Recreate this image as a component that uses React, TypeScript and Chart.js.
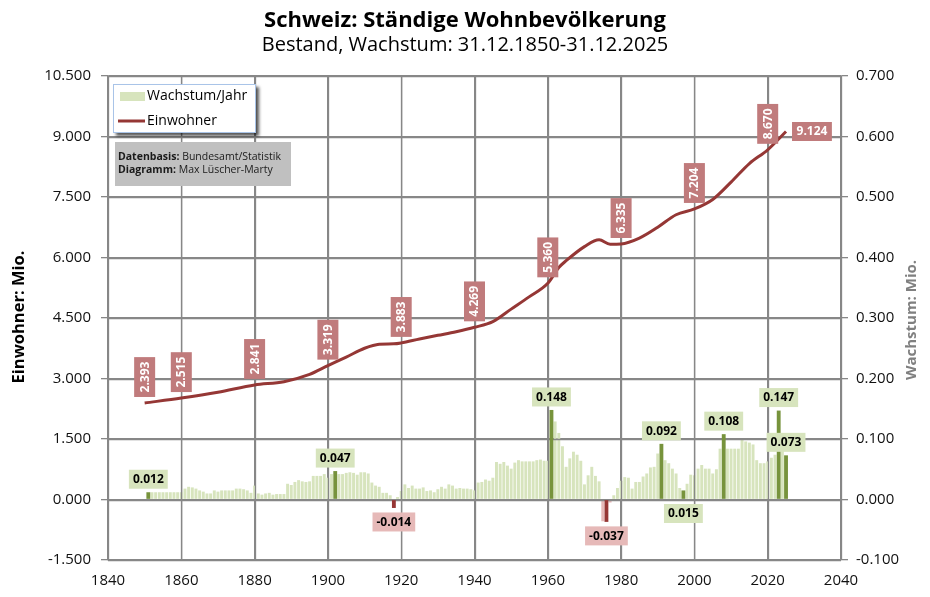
import { useEffect, useRef } from "react";
import { Chart, registerables } from "chart.js";

Chart.register(...registerables);

const FONT = '"Open Sans", "DejaVu Sans", sans-serif';

// Wachstum pro Jahr (Mio.), 1851 .. 2025
const growthFirstYear = 1851;
const growthValues = [
	0.012, 0.012, 0.012, 0.012, 0.012, 0.012, 0.012, 0.012, 0.012, 0.012,
	0.018, 0.021, 0.020, 0.018, 0.015, 0.013, 0.010, 0.010, 0.015, 0.013,
	0.015, 0.015, 0.015, 0.015, 0.018, 0.018, 0.017, 0.015, 0.011, 0.023,
	0.010, 0.008, 0.010, 0.011, 0.008, 0.009, 0.009, 0.009, 0.026, 0.024,
	0.029, 0.032, 0.030, 0.029, 0.030, 0.039, 0.039, 0.039, 0.042, 0.036,
	0.042, 0.047, 0.042, 0.042, 0.044, 0.045, 0.044, 0.041, 0.045, 0.045,
	0.043, 0.028, 0.023, 0.021, 0.011, 0.011, 0.007, -0.014, 0.004, 0.014,
	0.025, 0.019, 0.023, 0.018, 0.018, 0.020, 0.014, 0.015, 0.012, 0.017,
	0.021, 0.018, 0.025, 0.023, 0.018, 0.019, 0.018, 0.018, 0.017, 0.015,
	0.028, 0.029, 0.033, 0.031, 0.036, 0.062, 0.059, 0.062, 0.056, 0.051,
	0.061, 0.065, 0.063, 0.063, 0.063, 0.063, 0.065, 0.066, 0.064, 0.064,
	0.148, 0.129, 0.110, 0.088, 0.054, 0.068, 0.079, 0.074, 0.064, 0.025,
	0.040, 0.054, 0.039, 0.030, -0.036, -0.037, -0.005, 0.007, 0.019, 0.031,
	0.037, 0.036, 0.018, 0.029, 0.029, 0.038, 0.043, 0.053, 0.054, 0.076,
	0.092, 0.065, 0.060, 0.051, 0.043, 0.019, 0.015, 0.026, 0.041, 0.040,
	0.051, 0.057, 0.051, 0.051, 0.043, 0.050, 0.084, 0.108, 0.084, 0.084,
	0.084, 0.084, 0.099, 0.096, 0.094, 0.091, 0.065, 0.060, 0.060, 0.063,
	0.069, 0.074, 0.147, 0.085, 0.073,
];
const highlightYears = [1851, 1902, 1918, 1961, 1976, 1991, 1997, 2008, 2023, 2025];
const labelBelowYears = [1997];

// Einwohner (Mio.)
const popYears = [
	1850, 1860, 1870, 1880, 1888, 1895, 1900, 1905, 1910, 1914, 1918, 1920,
	1925, 1930, 1935, 1940, 1945, 1950, 1955, 1960, 1963, 1965, 1970, 1974,
	1977, 1980, 1985, 1990, 1995, 2000, 2005, 2010, 2015, 2020, 2025,
];
const popValues = [
	2.393, 2.515, 2.66, 2.841, 2.92, 3.1, 3.319, 3.53, 3.75, 3.85, 3.86, 3.883,
	3.98, 4.07, 4.16, 4.269, 4.41, 4.72, 5.03, 5.36, 5.75, 5.92, 6.27, 6.44,
	6.33, 6.335, 6.48, 6.75, 7.06, 7.204, 7.44, 7.87, 8.33, 8.67, 9.124,
];
const popLabelYears = [1850, 1860, 1880, 1900, 1920, 1940, 1960, 1980, 2000, 2020];

const xTicks = [1840, 1860, 1880, 1900, 1920, 1940, 1960, 1980, 2000, 2020, 2040];
const leftTicks = [-1.5, 0, 1.5, 3, 4.5, 6, 7.5, 9, 10.5];
const rightTicks = [-0.1, 0, 0.1, 0.2, 0.3, 0.4, 0.5, 0.6, 0.7];

const GRID = "#878787";
const LINE = "#953735";

const growthYears = growthValues.map((_, i) => growthFirstYear + i);
const growthOf = (year: number) => growthValues[year - growthFirstYear];

const overlay = {
	id: "overlay",
	afterDatasetDraw(chart: any, args: any) {
		// gridlines drawn over the light bars
		if (args.index !== 2) return;
		const { ctx, chartArea: a, scales } = chart;
		ctx.save();
		ctx.strokeStyle = GRID;
		ctx.lineWidth = 1.3;
		ctx.beginPath();
		xTicks.forEach((t) => {
			const x = Math.round(scales.x.getPixelForValue(t)) + 0.5;
			ctx.moveTo(x, a.top);
			ctx.lineTo(x, a.bottom);
		});
		leftTicks.forEach((t) => {
			const y = Math.round(scales.y.getPixelForValue(t)) + 0.5;
			ctx.moveTo(a.left, y);
			ctx.lineTo(a.right, y);
		});
		ctx.stroke();
		ctx.restore();
	},
	afterDatasetsDraw(chart: any) {
		const { ctx, scales } = chart;
		const xs = scales.x;
		const y2 = scales.y2;
		const y1 = scales.y;
		ctx.save();
		ctx.textAlign = "center";
		ctx.textBaseline = "middle";

		// bar labels
		ctx.font = `bold 12px ${FONT}`;
		highlightYears.forEach((year) => {
			const v = growthOf(year);
			const x = xs.getPixelForValue(year);
			const top = y2.getPixelForValue(v);
			const zero = y2.getPixelForValue(0);
			const below = v < 0 || labelBelowYears.includes(year);
			const cy = below ? Math.max(top, zero) + 14 : Math.min(top, zero) - 13;
			const text = v.toFixed(3);
			const w = ctx.measureText(text).width + 8;
			ctx.fillStyle = v < 0 ? "#E6B9B8" : "#D7E4BD";
			ctx.fillRect(x - w / 2, cy - 9.5, w, 19);
			ctx.fillStyle = "#000";
			ctx.fillText(text, x, cy + 0.5);
		});

		// population labels
		ctx.font = `bold 12px ${FONT}`;
		popLabelYears.forEach((year) => {
			const v = popValues[popYears.indexOf(year)];
			const x = xs.getPixelForValue(year);
			const y = y1.getPixelForValue(v);
			const text = v.toFixed(3);
			const h = ctx.measureText(text).width + 9;
			ctx.fillStyle = "#C07B7C";
			ctx.fillRect(x - 10.5, y - 6 - h, 21, h);
			ctx.save();
			ctx.translate(x + 0.5, y - 6 - h / 2);
			ctx.rotate(-Math.PI / 2);
			ctx.fillStyle = "#fff";
			ctx.fillText(text, 0, 0);
			ctx.restore();
		});
		const lastV = popValues[popValues.length - 1];
		const lx = xs.getPixelForValue(popYears[popYears.length - 1]);
		const ly = y1.getPixelForValue(lastV);
		const lt = lastV.toFixed(3);
		const lw = ctx.measureText(lt).width + 9;
		ctx.fillStyle = "#C07B7C";
		ctx.fillRect(lx + 6, ly - 9.5, lw, 19);
		ctx.fillStyle = "#fff";
		ctx.fillText(lt, lx + 6 + lw / 2, ly + 0.5);
		ctx.restore();
	},
	afterDraw(chart: any) {
		const { ctx } = chart;
		ctx.save();
		// title
		ctx.textAlign = "center";
		ctx.textBaseline = "middle";
		ctx.fillStyle = "#000";
		ctx.font = `bold 22px ${FONT}`;
		ctx.fillText("Schweiz: Ständige Wohnbevölkerung", 465, 21);
		ctx.font = `20px ${FONT}`;
		ctx.fillText("Bestand, Wachstum: 31.12.1850-31.12.2025", 465, 45);

		// axis titles
		ctx.font = `bold 16.5px ${FONT}`;
		ctx.save();
		ctx.translate(19, 317);
		ctx.rotate(-Math.PI / 2);
		ctx.fillText("Einwohner: Mio.", 0, 0);
		ctx.restore();
		ctx.font = `bold 15px ${FONT}`;
		ctx.save();
		ctx.translate(912, 320);
		ctx.rotate(-Math.PI / 2);
		ctx.fillStyle = "#808080";
		ctx.fillText("Wachstum: Mio.", 0, 0);
		ctx.restore();

		// legend
		ctx.save();
		ctx.shadowColor = "rgba(0,0,0,0.65)";
		ctx.shadowOffsetX = 3;
		ctx.shadowOffsetY = 3;
		ctx.shadowBlur = 3;
		ctx.fillStyle = "#fff";
		ctx.fillRect(113, 84, 143, 49);
		ctx.restore();
		ctx.strokeStyle = "#A9C4E8";
		ctx.lineWidth = 1;
		ctx.strokeRect(113.5, 84.5, 142, 48);
		ctx.fillStyle = "#D7E4BD";
		ctx.fillRect(120, 92, 25, 9);
		ctx.strokeStyle = LINE;
		ctx.lineWidth = 3;
		ctx.beginPath();
		ctx.moveTo(118, 121);
		ctx.lineTo(145, 121);
		ctx.stroke();
		ctx.textAlign = "left";
		ctx.fillStyle = "#000";
		ctx.font = `14px ${FONT}`;
		ctx.fillText("Wachstum/Jahr", 147, 96);
		ctx.fillText("Einwohner", 147, 121);

		// source box
		ctx.fillStyle = "#C0C0C0";
		ctx.fillRect(115, 142, 176, 44);
		ctx.fillStyle = "#1a1a1a";
		ctx.font = `bold 10.5px ${FONT}`;
		const a1 = "Datenbasis: ";
		const a2 = "Diagramm: ";
		ctx.fillText(a1, 118, 157);
		ctx.fillText(a2, 118, 170);
		const w1 = ctx.measureText(a1).width;
		const w2 = ctx.measureText(a2).width;
		ctx.font = `10.5px ${FONT}`;
		ctx.fillText("Bundesamt/Statistik", 118 + w1, 157);
		ctx.fillText("Max Lüscher-Marty", 118 + w2, 170);
		ctx.restore();
	},
};

export default function App() {
	const chartRef = useRef<HTMLCanvasElement>(null);
	const chartInstance = useRef<Chart | null>(null);

	useEffect(() => {
		if (!chartRef.current) return;
		if (chartInstance.current) chartInstance.current.destroy();
		const ctx = chartRef.current.getContext("2d");
		if (!ctx) return;

		const lightBars = growthYears
			.filter((y) => !highlightYears.includes(y))
			.map((y) => ({ x: y, y: growthOf(y) }));
		const darkBars = highlightYears.map((y) => ({ x: y, y: growthOf(y) }));

		chartInstance.current = new Chart(ctx, {
			type: "bar",
			data: {
				datasets: [
					{
						type: "line",
						label: "Einwohner",
						data: popYears.map((y, i) => ({ x: y, y: popValues[i] })),
						borderColor: LINE,
						borderWidth: 3,
						pointRadius: 0,
						cubicInterpolationMode: "monotone",
						yAxisID: "y",
						order: 1,
					} as any,
					{
						label: "Hervorgehoben",
						data: darkBars,
						backgroundColor: (c: any) => ((c.raw?.y ?? 0) < 0 ? "#963634" : "#77933C"),
						barPercentage: 1.05,
						categoryPercentage: 1,
						grouped: false,
						yAxisID: "y2",
						order: 2,
					},
					{
						label: "Wachstum/Jahr",
						data: lightBars,
						backgroundColor: (c: any) => ((c.raw?.y ?? 0) < 0 ? "#E6B9B8" : "#D7E4BD"),
						barPercentage: 0.8,
						categoryPercentage: 1,
						grouped: false,
						yAxisID: "y2",
						order: 3,
					},
				],
			},
			options: {
				responsive: false,
				animation: false,
				layout: { padding: { top: 76, left: 0, right: 0, bottom: 0 } },
				plugins: {
					legend: { display: false },
					tooltip: { enabled: false },
				},
				scales: {
					x: {
						type: "linear",
						min: 1840,
						max: 2040,
						offset: false,
						afterBuildTicks: (s: any) => {
							s.ticks = xTicks.map((v) => ({ value: v }));
						},
						afterFit: (s: any) => {
							s.height = 37;
						},
						grid: { color: GRID, lineWidth: 1.3, drawTicks: false, offset: false },
						border: { color: GRID, width: 1.3 },
						ticks: {
							padding: 12,
							color: "#111",
							font: { family: FONT, size: 15 },
							callback: (v: any) => String(v),
							maxRotation: 0,
						},
					},
					y: {
						position: "left",
						min: -1.5,
						max: 10.5,
						afterBuildTicks: (s: any) => {
							s.ticks = leftTicks.map((v) => ({ value: v }));
						},
						afterFit: (s: any) => {
							s.width = 108;
						},
						grid: { color: GRID, lineWidth: 1.3, tickLength: 7 },
						border: { color: GRID, width: 1.3 },
						ticks: {
							padding: 10,
							color: "#111",
							font: { family: FONT, size: 15 },
							callback: (v: any) => Number(v).toFixed(3),
						},
					},
					y2: {
						position: "right",
						min: -0.1,
						max: 0.7,
						afterBuildTicks: (s: any) => {
							s.ticks = rightTicks.map((v) => ({ value: v }));
						},
						afterFit: (s: any) => {
							s.width = 89;
						},
						grid: { color: GRID, lineWidth: 1.3, tickLength: 7, drawOnChartArea: false },
						border: { color: GRID, width: 1.3 },
						ticks: {
							padding: 8,
							color: "#111",
							font: { family: FONT, size: 15 },
							callback: (v: any) => Number(v).toFixed(3),
						},
					},
				},
			},
			plugins: [overlay],
		});

		return () => {
			if (chartInstance.current) {
				chartInstance.current.destroy();
				chartInstance.current = null;
			}
		};
	}, []);

	return (
		<div style={{ position: "fixed", left: 0, top: 0, width: 930, height: 597, background: "#fff" }}>
			<canvas ref={chartRef} width={930} height={597} />
		</div>
	);
}
